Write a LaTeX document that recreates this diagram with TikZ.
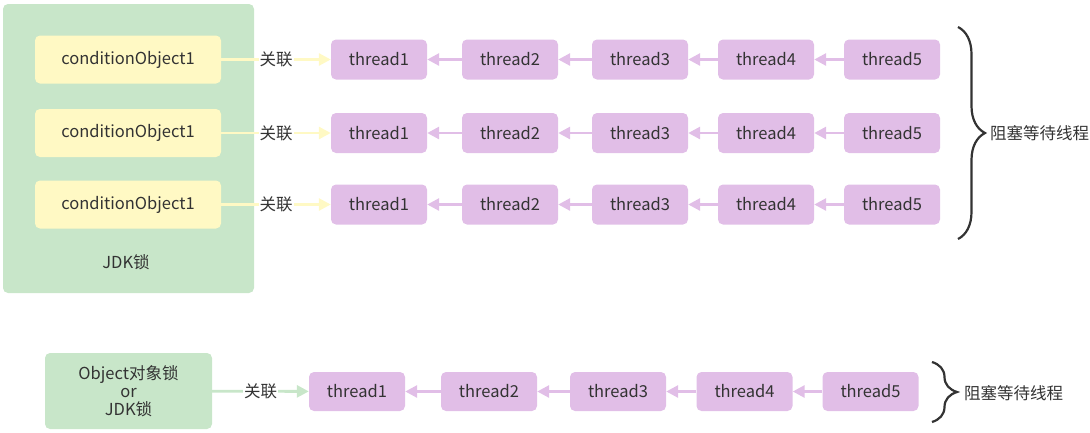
\documentclass[tikz,border=0pt]{standalone}
\usepackage{fontspec}
\setmainfont{Noto Sans CJK SC}
\usetikzlibrary{arrows.meta,decorations.pathreplacing}
\definecolor{grn}{HTML}{C8E6C9}
\definecolor{ylw}{HTML}{FFF9C4}
\definecolor{prp}{HTML}{E1BEE7}
\definecolor{txt}{HTML}{333333}
\tikzset{
  base/.style={rounded corners=5pt, inner sep=0pt, text=txt, font=\fontsize{16.5}{19}\selectfont},
  thr/.style={base, fill=prp, minimum width=96pt, minimum height=40pt},
  cond/.style={base, fill=ylw, minimum width=186pt, minimum height=48pt},
  lock/.style={base, fill=grn},
  lbl/.style={text=txt, font=\fontsize{16.5}{19}\selectfont, fill=white, inner sep=1pt},
  parr/.style={draw=prp, line width=2.8pt, -{Triangle[length=12pt,width=12pt]}},
  yarr/.style={draw=ylw, line width=2.8pt, -{Triangle[length=12pt,width=12pt]}},
  garr/.style={draw=grn, line width=2.8pt, -{Triangle[length=12pt,width=12pt]}},
  brc/.style={draw=txt, line width=2.2pt, decorate},
  side/.style={text=txt, font=\fontsize{16.5}{19}\selectfont, anchor=west, inner sep=0pt},
}
\begin{document}
\begin{tikzpicture}[x=1pt,y=-1pt]
\useasboundingbox (0,0) rectangle (1090,432);
% big green box
\node[lock, minimum width=251pt, minimum height=289pt] (jdk) at (128.5,148.5) {};
\node[text=txt, font=\fontsize{16.5}{19}\selectfont] (jdklbl) at (126,262) {JDK锁};
\foreach \r/\y in {1/59.5,2/133,3/204.5}{
  \node[cond] (c\r) at (128,\y) {conditionObject1};
  \node[thr] (t\r1) at (379,\y) {thread1};
  \node[thr] (t\r2) at (510,\y) {thread2};
  \node[thr] (t\r3) at (640,\y) {thread3};
  \node[thr] (t\r4) at (766,\y) {thread4};
  \node[thr] (t\r5) at (892,\y) {thread5};
  \draw[yarr] (c\r) -- node[lbl] {关联} (t\r1);
  \draw[parr] (t\r2) -- (t\r1);
  \draw[parr] (t\r3) -- (t\r2);
  \draw[parr] (t\r4) -- (t\r3);
  \draw[parr] (t\r5) -- (t\r4);
}
\coordinate (b1a) at (958,27);
\coordinate (b1b) at (958,239);
\draw[brc, decoration={brace, amplitude=27pt, aspect=0.5}] (b1a) -- (b1b);
\node[side] (w1) at (990,133) {阻塞等待线程};
% bottom
\node[lock, minimum width=167pt, minimum height=76pt, align=center, font=\fontsize{16.5}{18}\selectfont] (obj) at (128.5,391) {Object对象锁\\or\\JDK锁};
\node[thr, minimum height=39pt] (u1) at (357,391.5) {thread1};
\node[thr, minimum height=39pt] (u2) at (489,391.5) {thread2};
\node[thr, minimum height=39pt] (u3) at (618,391.5) {thread3};
\node[thr, minimum height=39pt] (u4) at (744.5,391.5) {thread4};
\node[thr, minimum height=39pt] (u5) at (870.5,391.5) {thread5};
\draw[garr] (obj) -- node[lbl] {关联} (u1);
\draw[parr] (u2) -- (u1);
\draw[parr] (u3) -- (u2);
\draw[parr] (u4) -- (u3);
\draw[parr] (u5) -- (u4);
\coordinate (b2a) at (932,362);
\coordinate (b2b) at (932,422);
\draw[brc, decoration={brace, amplitude=25pt, aspect=0.5}] (b2a) -- (b2b);
\node[side] (w2) at (964,393) {阻塞等待线程};
\end{tikzpicture}
\end{document}
